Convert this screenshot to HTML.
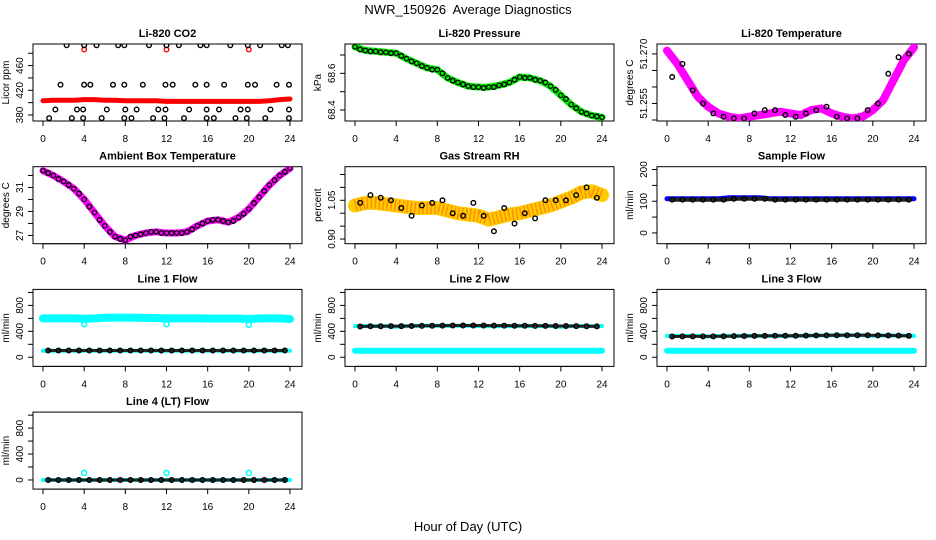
<!DOCTYPE html>
<html><head><meta charset="utf-8"><style>
body{margin:0;background:#fff;}
svg{display:block;font-family:"Liberation Sans",Arial,sans-serif;}
</style></head><body>
<svg id="chart" width="936" height="540" viewBox="0 0 936 540">
<text x="468" y="14" text-anchor="middle" font-size="13">NWR_150926&#160; Average Diagnostics</text>
<text x="468" y="531" text-anchor="middle" font-size="13">Hour of Day (UTC)</text>
</svg>
<script>
// ---- data ----
const hours = [0,1,2,3,4,5,6,7,8,9,10,11,12,13,14,15,16,17,18,19,20,21,22,23,24];
const halfHours = [0.5,1.5,2.5,3.5,4.5,5.5,6.5,7.5,8.5,9.5,10.5,11.5,12.5,13.5,14.5,15.5,16.5,17.5,18.5,19.5,20.5,21.5,22.5,23.5];
const xTicks = [0,4,8,12,16,20,24];

const co2Red = [403,404,404,404,405,405,404,404,403,403,403,403,402,402,402,402,402,402,402,402,402,402,403,405,406];
const co2RedOutT = [4,12,20];
const co2RedOutV = [486,486,486];
const co2BlackT = [2.3,4.0,5.2,7.3,7.9,10.3,12.0,13.2,15.3,15.9,18.2,19.9,21.1,23.2,23.8,
  1.7,4.0,4.6,6.8,7.9,9.7,11.9,12.6,14.8,15.9,17.6,19.9,20.6,22.7,23.9,
  1.2,3.3,3.9,6.2,8.0,9.1,11.2,11.9,14.2,15.9,17.1,19.2,19.9,22.1,23.9,
  0.6,2.8,3.9,5.7,7.9,8.6,10.7,11.8,13.7,15.9,16.6,18.7,19.8,21.6,23.9];
const co2BlackV = [493,493,493,493,493,493,493,493,493,493,493,493,493,493,493,
  429,429,429,429,429,429,429,429,429,429,429,429,429,429,429,
  389,389,389,389,389,389,389,389,389,389,389,389,389,389,389,
  375,375,375,375,375,375,375,375,375,375,375,375,375,375,375];

const presLine = [68.745,68.725,68.72,68.715,68.71,68.68,68.655,68.63,68.62,68.575,68.55,68.53,68.525,68.525,68.535,68.55,68.58,68.575,68.56,68.53,68.48,68.43,68.39,68.37,68.36];
const presBlack = [68.73,68.72,68.715,68.71,68.695,68.665,68.64,68.62,68.6,68.56,68.54,68.525,68.52,68.525,68.54,68.565,68.575,68.565,68.55,68.51,68.46,68.41,68.38,68.365];

const tempLine = [51.271,51.267,51.262,51.257,51.254,51.252,51.251,51.2505,51.251,51.2515,51.252,51.2525,51.252,51.2515,51.253,51.2535,51.252,51.251,51.2505,51.251,51.253,51.256,51.262,51.268,51.272];
const tempBlack = [51.263,51.267,51.259,51.255,51.252,51.251,51.2505,51.2505,51.252,51.253,51.253,51.2515,51.251,51.252,51.253,51.254,51.251,51.2505,51.2505,51.253,51.255,51.264,51.269,51.27];

const ambLine = [32.4,32.0,31.5,30.9,30.0,28.9,27.8,26.9,26.6,27.0,27.2,27.3,27.2,27.2,27.3,27.8,28.2,28.3,28.1,28.5,29.2,30.2,31.2,32.0,32.6];
const ambBlack = [32.2,31.7,31.2,30.5,29.4,28.3,27.3,26.7,26.9,27.1,27.3,27.2,27.2,27.2,27.5,28.0,28.3,28.2,28.2,28.8,29.7,30.7,31.6,32.3];

const rhLine = [1.03,1.04,1.04,1.035,1.03,1.025,1.02,1.02,1.02,1.01,1.0,0.995,0.99,0.975,0.985,0.995,1.0,1.01,1.02,1.03,1.045,1.06,1.08,1.085,1.07];
const rhBlack = [1.04,1.07,1.06,1.05,1.02,0.99,1.03,1.04,1.05,1.0,0.99,1.04,0.99,0.93,1.02,0.96,1.0,0.98,1.05,1.05,1.05,1.07,1.1,1.06];

const sampleBlue = [108,108,108,108,108,108,111,111,111,111,108,108,108,108,108,108,108,108,108,108,108,108,108,108,108];
const sampleBlack = [105,105,105,105,105,105,108,108,108,108,105,105,105,105,105,105,105,105,105,105,105,105,105,105];

const l1Cyan = [600,600,600,600,595,600,610,612,612,610,608,605,600,600,600,600,598,598,598,598,590,598,600,600,590];
const l1CyanLow = [100,100,100,100,100,100,100,100,100,100,100,100,100,100,100,100,100,100,100,100,100,100,100,100,100];
const l1Black = [105,105,105,105,105,105,105,105,105,105,105,105,105,105,105,105,105,105,105,105,105,105,105,105];
const l1OutT = [4,12,20];
const l1OutV = [510,510,500];

const l2Cyan = [100,100,100,100,100,100,100,100,100,100,100,100,100,100,100,100,100,100,100,100,100,100,100,100,100];
const l2CyanHigh = [480,480,480,480,470,480,485,485,485,485,485,485,480,480,480,480,480,480,480,480,470,480,480,480,480];
const l2Black = [475,478,478,480,480,482,485,487,488,490,490,490,490,488,488,487,486,485,484,483,482,480,478,476];

const l3Cyan = [100,100,100,100,100,100,100,100,100,100,100,100,100,100,100,100,100,100,100,100,100,100,100,100,100];
const l3CyanHigh = [330,330,330,330,320,330,330,330,330,330,330,330,330,330,335,335,340,340,340,340,330,335,335,335,330];
const l3Black = [320,322,322,322,322,324,326,328,330,330,332,332,332,334,336,338,340,340,340,340,338,336,334,330];

const l4Cyan = [0,0,0,0,0,0,0,0,0,0,0,0,0,0,0,0,0,0,0,0,0,0,0,0,0];
const l4Black = [0,0,0,0,0,0,0,0,0,0,0,0,0,0,0,0,0,0,0,0,0,0,0,0];
const l4OutT = [4,12,20];
const l4OutV = [110,110,110];

const flowTicks = [0,200,400,600,800,1000];
const flowLabels = [0,400,800];

// ---- drawing ----
const svg = document.getElementById('chart');
const NS = 'http://www.w3.org/2000/svg';
function mk(tag, attrs, parent){
  const e = document.createElementNS(NS, tag);
  for (const k in attrs) e.setAttribute(k, attrs[k]);
  (parent||svg).appendChild(e);
  return e;
}
function panel(r, c, name, title, ylab, ylim, yticks, ylabels, fmt){
  const L = 33 + 312*c, T = 44 + 122.7*r, W = 269, H = 77;
  const g = mk('g', {});
  
  
  const xs = t => L + 10 + t/24*247;
  const ys = v => T + H - (v - ylim[0])/(ylim[1]-ylim[0])*H;
  const box = mk('rect', {x:L, y:T, width:W, height:H, fill:'none', stroke:'#000', 'stroke-width':1}, g);
  
  
  const tt = mk('text', {x:L+W/2, y:T-7, 'text-anchor':'middle', 'font-size':11, 'font-weight':'bold'}, g);
  tt.textContent = title;
  
  
  const xa = mk('g', {}, g);
  
  
  mk('line', {x1:xs(0), x2:xs(24), y1:T+H, y2:T+H, stroke:'#000'}, xa);
  xTicks.forEach(t => {
    mk('line', {x1:xs(t), x2:xs(t), y1:T+H, y2:T+H+5, stroke:'#000'}, xa);
    const tx = mk('text', {x:xs(t), y:T+H+21, 'text-anchor':'middle', 'font-size':10}, xa);
    tx.textContent = t;
  });
  const ya = mk('g', {}, g);
  
  
  mk('line', {x1:L, x2:L, y1:ys(yticks[0]), y2:ys(yticks[yticks.length-1]), stroke:'#000'}, ya);
  yticks.forEach(v => mk('line', {x1:L-5, x2:L, y1:ys(v), y2:ys(v), stroke:'#000'}, ya));
  ylabels.forEach(v => {
    const y = ys(v), x = L - 10;
    const tx = mk('text', {x:x, y:y, 'text-anchor':'middle', 'font-size':10, transform:`rotate(-90 ${x} ${y})`}, ya);
    tx.textContent = fmt ? fmt(v) : v;
  });
  const yl = mk('text', {x:L-24, y:T+H/2, 'text-anchor':'middle', 'font-size':10, transform:`rotate(-90 ${L-24} ${T+H/2})`}, g);
  yl.textContent = ylab;
  
  
  const clip = 'clip' + r + c;
  const cp = mk('clipPath', {id:clip}, g);
  mk('rect', {x:L, y:T, width:W, height:H}, cp);
  const plot = mk('g', {'clip-path':`url(#${clip})`}, g);
  return {xs, ys, plot, name};
}
function band(p, ts, vs, color, w, extra){
  const d = ts.map((t,i) => (i?'L':'M') + p.xs(t).toFixed(1) + ' ' + p.ys(vs[i]).toFixed(1)).join(' ');
  const e = mk('path', Object.assign({d, fill:'none', stroke:color, 'stroke-width':w, 'stroke-linejoin':'round', 'stroke-linecap':'round'}, extra||{}), p.plot);
  
  
}
function pts(p, ts, vs, color, r, sw, label){
  ts.forEach((t,i) => {
    const c = mk('circle', {cx:p.xs(t), cy:p.ys(vs[i]), r:r||2.3, fill:'none', stroke:color, 'stroke-width':sw||1.4}, p.plot);
    
    
  });
}

let p = panel(0,0,'co2','Li-820 CO2','Licor ppm',[370.3,495],[380,400,420,440,460,480],[380,420,460]);
band(p, hours, co2Red, '#ff0000', 5);
pts(p, co2RedOutT, co2RedOutV, '#ff0000');
pts(p, co2BlackT, co2BlackV, '#000');

p = panel(0,1,'pressure','Li-820 Pressure','kPa',[68.34,68.76],[68.4,68.5,68.6,68.7],[68.4,68.6],v=>v.toFixed(1));
band(p, hours, presLine, '#00ee00', 7);
pts(p, halfHours, presBlack, '#000');
pts(p, hours, presLine, '#000', 2.2, 1.2);

p = panel(0,2,'temperature','Li-820 Temperature','degrees C',[51.2497,51.273],[51.25,51.255,51.26,51.265,51.27],[51.255,51.27],v=>v.toFixed(3));
band(p, hours, tempLine, '#ff00ff', 8);
pts(p, halfHours, tempBlack, '#000');

p = panel(1,0,'ambient','Ambient Box Temperature','degrees C',[26.31,32.73],[27,28,29,30,31,32],[27,29,31]);
band(p, hours, ambLine, '#ff00ff', 7);
pts(p, halfHours, ambBlack, '#000');
pts(p, hours, ambLine, '#000', 2.2, 1.2);

p = panel(1,1,'rh','Gas Stream RH','percent',[0.882,1.180],[0.9,0.95,1.0,1.05,1.1,1.15],[0.9,1.05],v=>v.toFixed(2));
band(p, hours, rhLine, '#ffcc00', 14);
band(p, hours, rhLine, '#ff6600', 12, {'stroke-dasharray':'1.5 2.5', 'stroke-linecap':'butt', opacity:0.6});
pts(p, halfHours, rhBlack, '#000');

p = panel(1,2,'sample-flow','Sample Flow','ml/min',[-34,209],[0,50,100,150,200],[0,100,200]);
band(p, hours, sampleBlue, '#0000ff', 5);
band(p, halfHours, sampleBlack, '#222', 4);
pts(p, halfHours, sampleBlack, '#000');

p = panel(2,0,'line1-flow','Line 1 Flow','ml/min',[-141,1047],flowTicks,flowLabels);
band(p, hours, l1Cyan, '#00ffff', 8);
band(p, hours, l1CyanLow, '#00ffff', 4);
pts(p, l1OutT, l1OutV, '#00ffff', 2.5, 1.5);
band(p, halfHours, l1Black, '#222', 3);
pts(p, halfHours, l1Black, '#000');

p = panel(2,1,'line2-flow','Line 2 Flow','ml/min',[-141,1047],flowTicks,flowLabels);
band(p, hours, l2Cyan, '#00ffff', 6);
band(p, hours, l2CyanHigh, '#00ffff', 4);
band(p, halfHours, l2Black, '#222', 3);
pts(p, halfHours, l2Black, '#000');

p = panel(2,2,'line3-flow','Line 3 Flow','ml/min',[-141,1047],flowTicks,flowLabels);
band(p, hours, l3Cyan, '#00ffff', 6);
band(p, hours, l3CyanHigh, '#00ffff', 4);
band(p, halfHours, l3Black, '#222', 3);
pts(p, halfHours, l3Black, '#000');

p = panel(3,0,'line4-flow','Line 4 (LT) Flow','ml/min',[-141,1047],flowTicks,flowLabels);
band(p, hours, l4Cyan, '#00ffff', 4);
pts(p, l4OutT, l4OutV, '#00ffff', 2.5, 1.5);
band(p, halfHours, l4Black, '#222', 3);
pts(p, halfHours, l4Black, '#000');
</script>
</body></html>
